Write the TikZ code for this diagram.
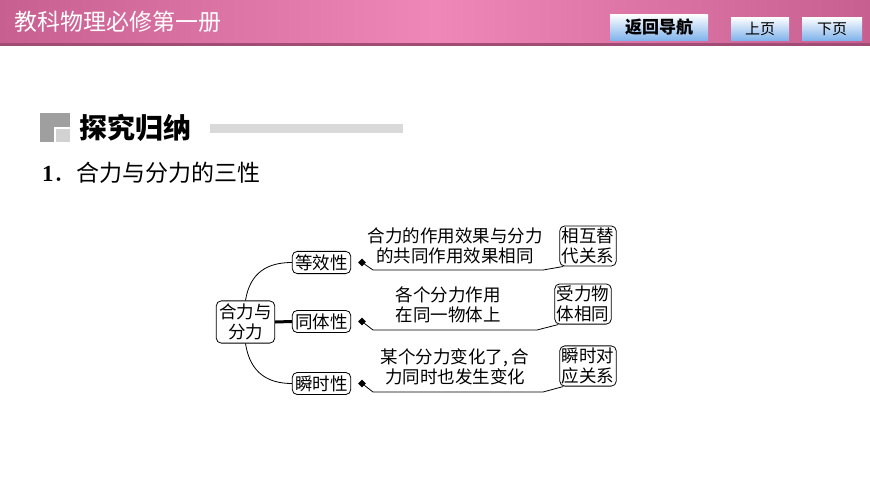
\documentclass[tikz,border=0pt]{standalone}
\usepackage{fontspec}
\setmainfont{Liberation Serif}
\newfontfamily\cjk{Noto Sans CJK SC}
\usetikzlibrary{shapes.geometric}
\definecolor{hdedge}{RGB}{200,95,145}
\definecolor{hdmid}{RGB}{240,135,185}
\definecolor{btnb}{RGB}{130,180,235}
\begin{document}
\begin{tikzpicture}[x=1pt,y=-1pt,
  rbox/.style={draw,thick,rounded corners=5pt,inner sep=3pt,font=\cjk\fontsize{17.5}{20}\selectfont,align=center},
  btn/.style={inner sep=0pt,font=\cjk\fontsize{17}{19}\selectfont},
  lbl/.style={font=\cjk\fontsize{17.5}{20}\selectfont,align=center,inner sep=0pt},
  link/.style={thick},
  dia/.style={diamond,fill=black,inner sep=0pt,minimum size=8pt}]
\useasboundingbox (0,0) rectangle (870,490);
\fill[white] (0,0) rectangle (870,490);
% header
\shade[left color=hdedge, right color=hdedge, middle color=hdmid] (0,0) rectangle (870,45);
\fill[hdedge!80!black] (0,43) rectangle (870,46);
\node[anchor=west,text=white,font=\cjk\fontsize{23}{25}\selectfont,inner sep=0pt] (title) at (14,22) {教科物理必修第一册};
\shade[top color=white,bottom color=btnb] (610,14) rectangle (708,40);
\node[btn,font=\cjk\bfseries\fontsize{17}{19}\selectfont] (b1) at (659,27) {返回导航};
\shade[top color=white,bottom color=btnb] (731,17) rectangle (789,40);
\node[btn,font=\cjk\fontsize{15}{17}\selectfont] (b2) at (760,29) {上页};
\shade[top color=white,bottom color=btnb] (802,17) rectangle (862,40);
\node[btn,font=\cjk\fontsize{15}{17}\selectfont] (b3) at (832,29) {下页};
% heading
\fill[gray!75] (40,113) rectangle (70,142);
\fill[gray!35] (56,129) rectangle (70,142);
\fill[white] (54,127) rectangle (56,142);
\fill[white] (54,127) rectangle (70,129);
\node[anchor=west,font=\cjk\bfseries\fontsize{28}{30}\selectfont,inner sep=0pt] (h) at (79,128) {探究归纳};
\fill[gray!30] (210,124) rectangle (403,133);
\node[anchor=west,inner sep=0pt,font=\fontsize{23}{25}\selectfont] (num) at (42,173) {\textbf{1}{\cjk ．合力与分力的三性}};
% diagram
\node[rbox] (root) at (245.5,322) {合力与\\分力};
\node[rbox] (a) at (321.5,262.5) {等效性};
\node[rbox] (b) at (321.5,321.5) {同体性};
\node[rbox] (c) at (321.5,383.5) {瞬时性};
\draw[link] (root.north) .. controls (250,272) and (268,262.5) .. (a.west);
\draw[line width=3pt] (root.east) -- (b.west);
\draw[link] (root.south) .. controls (250,373) and (268,383.5) .. (c.west);
\node[rbox,inner sep=2pt] (ca) at (588,246) {相互替\\代关系};
\node[rbox,inner sep=2pt] (cb) at (583,304) {受力物\\体相同};
\node[rbox,inner sep=2pt] (cc) at (588,366) {瞬时对\\应关系};
\node[lbl] (ta) at (455,246) {合力的作用效果与分力\\的共同作用效果相同};
\node[lbl] (tb) at (448,305) {各个分力作用\\在同一物体上};
\node[lbl] (tc) at (455,367) {某个分力变化了, 合\\力同时也发生变化};
\node[dia] (da) at (362,262.5) {};
\node[dia] (db) at (362,321.5) {};
\node[dia] (dc) at (362,383.5) {};
\coordinate (pa1) at (373,270); \coordinate (pa2) at (543,270);
\coordinate (pb1) at (373,330); \coordinate (pb2) at (537,330);
\coordinate (pc1) at (373,392); \coordinate (pc2) at (543,392);
\draw[link] (da) -- (pa1) -- (pa2) -- ([xshift=4pt]ca.south west);
\draw[link] (db) -- (pb1) -- (pb2) -- ([xshift=4pt]cb.south west);
\draw[link] (dc) -- (pc1) -- (pc2) -- ([xshift=4pt]cc.south west);
\end{tikzpicture}
\end{document}
